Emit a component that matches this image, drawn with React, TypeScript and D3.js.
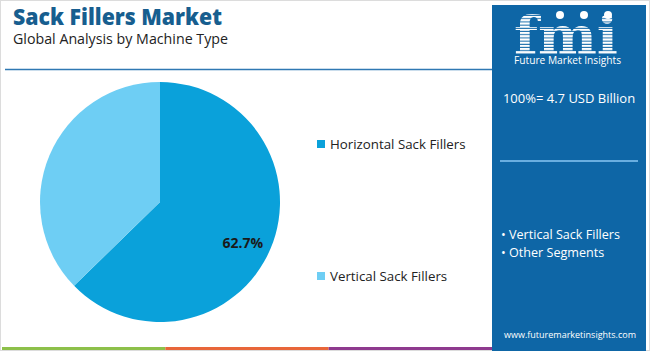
import React from "react";
import * as d3 from "d3";

const categories = ["Horizontal Sack Fillers", "Vertical Sack Fillers"];
const values = [62.7, 37.3];
const sliceColors = ["#0aa1da", "#6ecef4"];
const shownLabels = ["62.7%", ""];
const title = "Sack Fillers Market";
const subtitle = "Global Analysis by Machine Type";
const totalLabel = "100%= 4.7 USD Billion";
const panelItems = ["Vertical Sack Fillers", "Other Segments"];
const brand = "Future Market Insights";
const url = "www.futuremarketinsights.com";
const footerColors = ["#8dc04a", "#e8663a", "#8e3a8e"];

const W = 650;
const H = 351;
const FONT = "'Open Sans', 'Noto Sans', sans-serif";

export default function App() {
  const cx = 160;
  const cy = 202;
  const r = 120;
  const pie = d3.pie<number>().sort(null).value((d) => d);
  const arcs = pie(values);
  const arc = d3.arc<d3.PieArcDatum<number>>().innerRadius(0).outerRadius(r);
  const labelArc = d3.arc<d3.PieArcDatum<number>>().innerRadius(92).outerRadius(92);

  const footerX = d3.scaleBand<number>().domain(footerColors.map((_, i) => i)).range([2, 492]);

  return (
    <svg width={W} height={H} style={{ position: "absolute", left: 0, top: 0, display: "block" }}>
      <defs>
        <pattern id="stripes" width="4" height="3.2" patternUnits="userSpaceOnUse">
          <rect width="4" height="2.2" fill="#ffffff" />
        </pattern>
      </defs>
      <rect x={0.5} y={0.5} width={W - 1} height={H - 1} fill="#ffffff" stroke="#dcdcdc" />
      {/* title */}
      <text x={13} y={24.5} fontFamily={FONT} fontWeight={800} fontSize={22.5} fill="#175e8f" textLength={209} lengthAdjust="spacingAndGlyphs">
        {title}
      </text>
      <text x={13} y={43.5} fontFamily={FONT} fontSize={14} fill="#222" textLength={215} lengthAdjust="spacingAndGlyphs">
        {subtitle}
      </text>
      <line x1={5} x2={492} y1={69.5} y2={69.5} stroke="#2f78b3" strokeWidth={1.6} />

      {/* pie */}
      <g transform={`translate(${cx},${cy})`}>
        {arcs.map((a, i) => (
          <path key={i} d={arc(a) || ""} fill={sliceColors[i]} />
        ))}
        {arcs.map((a, i) => {
          const [lx, ly] = labelArc.centroid(a);
          return shownLabels[i] ? (
            <text key={"l" + i} x={lx} y={ly} dx={-2} dy={5} textAnchor="middle" dominantBaseline="central" fontFamily={FONT} fontWeight={700} fontSize={14} fill="#1a1a1a">
              {shownLabels[i]}
            </text>
          ) : null;
        })}
      </g>

      {/* legend */}
      {categories.map((c, i) => {
        const y = i === 0 ? 144 : 276;
        return (
          <g key={c}>
            <rect x={317} y={y - 4} width={8} height={8} fill={sliceColors[i]} />
            <text x={330} y={y} dominantBaseline="central" fontFamily={FONT} fontSize={13.3} fill="#222">
              {c}
            </text>
          </g>
        );
      })}

      {/* footer bar */}
      {footerColors.map((col, i) => (
        <rect key={col} x={footerX(i)} y={347} width={footerX.bandwidth()} height={3} fill={col} />
      ))}

      {/* right panel */}
      <rect x={492} y={5} width={154} height={346} fill="#0e66a6" />
      <text x={566} y={54} textAnchor="middle" fontFamily="'DejaVu Serif', serif" fontWeight={700} fontSize={52} fill="url(#stripes)" textLength={104} lengthAdjust="spacingAndGlyphs">
        fmi
      </text>
      <circle cx={560} cy={15} r={4} fill="#ffffff" />
      <circle cx={584} cy={15} r={4} fill="#ffffff" />
      <circle cx={608} cy={15} r={4} fill="#ffffff" />
      <text x={567.5} y={64} textAnchor="middle" fontFamily={FONT} fontSize={10} fill="#ffffff" textLength={107} lengthAdjust="spacingAndGlyphs">
        {brand}
      </text>
      <text x={569} y={103} textAnchor="middle" fontFamily={FONT} fontSize={13} fill="#ffffff">
        {totalLabel}
      </text>
      <line x1={500} x2={638} y1={161} y2={161} stroke="#69aee0" strokeWidth={2} />
      {panelItems.map((t, i) => (
        <text key={t} x={501} y={239 + i * 18} fontFamily={FONT} fontSize={12.6} fill="#ffffff">
          {"• " + t}
        </text>
      ))}
      <text x={570} y={338} textAnchor="middle" fontFamily={FONT} fontSize={9} fill="#ffffff">
        {url}
      </text>
    </svg>
  );
}
